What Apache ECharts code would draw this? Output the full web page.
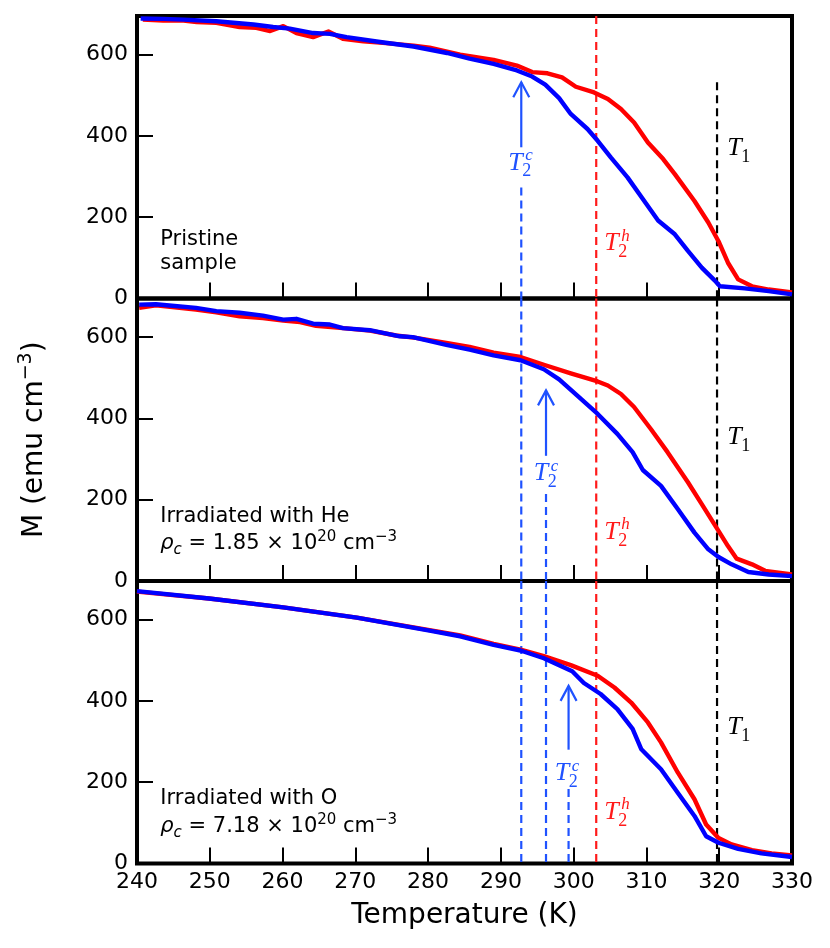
<!DOCTYPE html>
<html><head><meta charset="utf-8">
<script src="https://cdn.jsdelivr.net/npm/echarts@6/dist/echarts.min.js"></script>
<style>html,body{margin:0;padding:0;background:#fff}#c{width:830px;height:948px}</style>
</head><body><div id="c"></div>
<script>
// ---------- data (Temperature K, M emu cm^-3) ----------
const xTicks = [240, 250, 260, 270, 280, 290, 300, 310, 320, 330];
const yTicks = [0, 200, 400, 600];

// Panel 1: pristine
const p1RedT  = [240.8,243.6,246.4,248.2,250.9,254.1,256.4,258.3,260.1,261.9,264.2,266.3,268.3,271.1,273.8,278.0,280.2,284.4,289.0,292.2,294.3,296.4,298.4,300.3,302.8,304.7,306.5,308.3,310.2,312.3,313.9,316.6,318.5,319.9,321.2,322.6,324.5,326.8,330.0];
const p1RedM  = [686,684,684,680,678,668,666,658,670,653,643,657,639,633,629,622,617,600,587,573,557,554,544,521,507,491,466,433,384,343,306,240,187,141,88,47,30,22,15];
const p1BlueT = [240.5,243.6,246.4,250.9,256.0,258.7,261.0,264.2,266.5,268.8,273.4,278.0,282.6,285.7,289.0,292.2,294.3,296.1,298.0,299.6,301.9,303.3,305.1,307.4,309.7,311.6,313.9,315.7,317.6,319.4,320.1,323.5,326.8,330.0];
const p1BlueM = [689,688,686,682,674,668,664,653,651,643,631,620,604,590,577,561,546,526,493,454,417,388,347,298,240,192,158,117,76,44,30,25,18,10];

// Panel 2: irradiated with He
const p2RedT  = [240.3,242.6,248.1,250.9,254.1,257.3,260.1,262.4,264.6,268.3,272.0,275.6,278.3,282.5,285.7,289.0,292.7,295.9,299.6,303.3,304.7,306.5,308.3,310.6,312.9,315.7,317.6,319.6,321.2,322.4,324.5,326.3,330.0];
const p2RedM  = [672,678,668,661,651,647,641,637,628,622,616,604,598,586,576,562,551,532,511,491,481,460,428,374,317,243,189,132,86,55,41,25,16];
const p2BlueT = [240.3,242.6,248.1,250.9,254.1,257.3,260.1,261.9,264.2,266.5,268.3,272.0,276.1,277.9,282.5,285.7,289.0,292.7,295.9,298.0,300.5,303.3,306.0,308.1,309.5,312.0,314.3,316.6,318.5,319.9,321.7,324.0,326.8,330.0];
const p2BlueM = [680,681,672,664,660,653,643,645,633,631,622,617,602,600,581,569,555,543,521,496,456,411,362,317,273,234,177,119,78,59,41,22,16,12];

// Panel 3: irradiated with O
const p3RedT  = [240.0,249.9,260.1,270.2,280.2,284.4,289.0,292.7,295.9,299.6,303.3,305.6,307.9,310.2,312.0,314.3,316.6,318.2,319.9,321.7,324.5,327.2,330.0];
const p3RedM  = [669,652,630,605,574,561,540,526,510,488,462,433,396,347,298,224,158,96,63,47,33,25,20];
const p3BlueT = [240.0,249.9,260.1,270.2,280.2,284.4,289.0,292.7,295.9,299.8,301.4,303.7,306.0,308.1,309.3,312.0,314.3,316.6,318.2,319.9,322.6,325.8,330.0];
const p3BlueM = [670,652,630,605,573,559,538,524,505,473,444,417,380,331,281,232,174,117,67,51,36,25,16];

// Transition temperatures (vertical dashed lines)
const tBlueA = 292.8, tBlueB = 296.2, tBlueC = 299.3, tRed = 303.1, tBlack = 319.7;
// vertical segments per panel: [T, Mtop, Mbottom, colorKey]
const vLines1 = [[tBlueA, 273, 0, 'b'], [tRed, 695, 0, 'r'], [tBlack, 532, 0, 'k']];
const vLines2 = [[tBlueA, 695, 0, 'b'], [tBlueB, 214, 0, 'b'], [tRed, 695, 0, 'r'], [tBlack, 695, 0, 'k']];
const vLines3 = [[tBlueA, 695, 0, 'b'], [tBlueB, 695, 0, 'b'], [tBlueC, 183, 0, 'b'], [tRed, 695, 0, 'r'], [tBlack, 695, 0, 'k']];

// arrows: [T, Mtail, Mtip]
const arrows1 = [[tBlueA, 372, 532]];
const arrows2 = [[tBlueB, 308, 469]];
const arrows3 = [[tBlueC, 280, 437]];

// T labels: [T(left), M(center), kind]  kind 0=T2c 1=T2h 2=T1
const tLabels1 = [[291.0, 334, 0], [304.2, 136, 1], [321.1, 370, 2]];
const tLabels2 = [[294.5, 265, 0], [304.2, 121, 1], [321.1, 353, 2]];
const tLabels3 = [[297.4, 221, 0], [304.2, 127, 1], [321.1, 336, 2]];
const tLabelSub = ['2', '2', '1'];
const tLabelSup = ['c', 'h', ''];

// panel notes: [T(left), M(center), textIndex]
const noteTexts = [
  'Pristine', 'sample',
  'Irradiated with He', '{i|ρ}{sub|c} = 1.85 × 10{sup|20} cm{sup|−3}',
  'Irradiated with O',  '{i|ρ}{sub|c} = 7.18 × 10{sup|20} cm{sup|−3}'
];
const notes1 = [[243.2, 144, 0], [243.2, 87, 1]];
const notes2 = [[243.2, 158, 2], [243.2, 93, 3]];
const notes3 = [[243.2, 161, 4], [243.2, 91, 5]];

// ---------- styles ----------
const SANS = '"DejaVu Sans", sans-serif';
const MATH = '"Liberation Serif", "DejaVu Serif", serif';
const RED = '#ff0000', BLUE = '#0000ff', DBLUE = '#1f52ff', DRED = '#ff1a1a', BLACK = '#000000';
const lineColor = {b: DBLUE, r: DRED, k: BLACK};
const labelColor = [DBLUE, DRED, BLACK];

const LEFT = 137, WIDTH = 655, HEIGHT = 282.5;
const TOPS = [16, 298.5, 581];
const YMAX = 695;

const zip = (a, b) => a.map((t, i) => [t, b[i]]);
const panels = [
  {red: zip(p1RedT, p1RedM), blue: zip(p1BlueT, p1BlueM), v: vLines1, arrows: arrows1, tl: tLabels1, notes: notes1},
  {red: zip(p2RedT, p2RedM), blue: zip(p2BlueT, p2BlueM), v: vLines2, arrows: arrows2, tl: tLabels2, notes: notes2},
  {red: zip(p3RedT, p3RedM), blue: zip(p3BlueT, p3BlueM), v: vLines3, arrows: arrows3, tl: tLabels3, notes: notes3},
];

const RICH = {
  i:   {fontFamily: SANS, fontStyle: 'italic', fontSize: 21, lineHeight: 28, color: '#000'},
  sub: {fontFamily: SANS, fontStyle: 'italic', fontSize: 15, lineHeight: 14, verticalAlign: 'bottom', color: '#000'},
  sup: {fontFamily: SANS, fontSize: 15, lineHeight: 15, verticalAlign: 'top', color: '#000'}
};

function arrowItem(params, api) {
  const T = api.value(0);
  const p0 = api.coord([T, api.value(1)]);
  const p1 = api.coord([T, api.value(2)]);
  const st = {stroke: DBLUE, lineWidth: 2.2, fill: null};
  return {type: 'group', children: [
    {type: 'line', shape: {x1: p0[0], y1: p0[1], x2: p1[0], y2: p1[1]}, style: st},
    {type: 'polyline', shape: {points: [[p1[0] - 8, p1[1] + 15], [p1[0], p1[1]], [p1[0] + 8, p1[1] + 15]]}, style: st}
  ]};
}
function tLabelItem(params, api) {
  const p = api.coord([api.value(0), api.value(1)]);
  const k = api.value(2);
  const c = labelColor[k];
  const kids = [
    {type: 'text', x: p[0], y: p[1], style: {text: 'T', fontFamily: MATH, fontStyle: 'italic', fontSize: 26, fill: c, align: 'left', verticalAlign: 'middle'}},
    {type: 'text', x: p[0] + 14, y: p[1] + 9, style: {text: tLabelSub[k], fontFamily: MATH, fontSize: 18, fill: c, align: 'left', verticalAlign: 'middle'}}
  ];
  if (tLabelSup[k]) kids.push({type: 'text', x: p[0] + 17, y: p[1] - 7, style: {text: tLabelSup[k], fontFamily: MATH, fontStyle: 'italic', fontSize: 17, fill: c, align: 'left', verticalAlign: 'middle'}});
  return {type: 'group', children: kids};
}
function noteItem(params, api) {
  const p = api.coord([api.value(0), api.value(1)]);
  const k = api.value(2);
  return {type: 'text', x: p[0], y: p[1], style: {text: noteTexts[k], fontFamily: SANS, fontSize: 21, lineHeight: 28, fill: '#000', align: 'left', verticalAlign: 'middle', rich: RICH}};
}

const grid = [], xAxis = [], yAxis = [], series = [];
panels.forEach((P, i) => {
  grid.push({left: LEFT, top: TOPS[i], width: WIDTH, height: HEIGHT, show: true, borderColor: '#000', borderWidth: 4, backgroundColor: 'transparent', containLabel: false});
  const last = i === panels.length - 1;
  xAxis.push({
    type: 'value', gridIndex: i, min: xTicks[0], max: xTicks[xTicks.length - 1], interval: 10,
    axisLine: {show: false}, splitLine: {show: false},
    axisTick: {show: true, inside: true, length: 16, lineStyle: {color: '#000', width: 2}},
    axisLabel: {show: last, color: '#000', fontFamily: SANS, fontSize: 22, margin: 8},
    name: last ? 'Temperature (K)' : '', nameLocation: 'middle', nameGap: 38,
    nameTextStyle: {color: '#000', fontFamily: SANS, fontSize: 28}
  });
  yAxis.push({
    type: 'value', gridIndex: i, min: yTicks[0], max: YMAX, interval: 200,
    axisLine: {show: false}, splitLine: {show: false},
    axisTick: {show: true, inside: true, length: 16, lineStyle: {color: '#000', width: 2}},
    axisLabel: {show: true, color: '#000', fontFamily: SANS, fontSize: 22, margin: 9, showMaxLabel: false,
      formatter: v => (yTicks.indexOf(v) >= 0 ? String(v) : '')},
    name: i === 1 ? 'M (emu cm{sup|−3})' : '', nameLocation: 'middle', nameGap: 84, nameRotate: 90,
    nameTextStyle: {color: '#000', fontFamily: SANS, fontSize: 28, lineHeight: 36,
      rich: {sup: {fontFamily: SANS, fontSize: 19, lineHeight: 19, verticalAlign: 'top', color: '#000'}}}
  });
  P.v.forEach(v => {
    series.push({type: 'line', xAxisIndex: i, yAxisIndex: i, data: [[v[0], v[1]], [v[0], v[2]]],
      symbol: 'none', silent: true, z: 1, animation: false,
      lineStyle: {color: lineColor[v[3]], width: 2.2, type: [8, 5]}});
  });
  series.push({type: 'line', xAxisIndex: i, yAxisIndex: i, data: P.red, symbol: 'none', z: 2, animation: false,
    lineStyle: {color: RED, width: 4.4, join: 'round'}});
  series.push({type: 'line', xAxisIndex: i, yAxisIndex: i, data: P.blue, symbol: 'none', z: 3, animation: false,
    lineStyle: {color: BLUE, width: 4.4, join: 'round'}});
  series.push({type: 'custom', xAxisIndex: i, yAxisIndex: i, data: P.arrows, renderItem: arrowItem, z: 4, silent: true, animation: false});
  series.push({type: 'custom', xAxisIndex: i, yAxisIndex: i, data: P.tl, renderItem: tLabelItem, z: 4, silent: true, animation: false});
  series.push({type: 'custom', xAxisIndex: i, yAxisIndex: i, data: P.notes, renderItem: noteItem, z: 4, silent: true, animation: false});
});

const chart = echarts.init(document.getElementById('c'), null, {renderer: 'canvas'});
chart.setOption({backgroundColor: '#fff', animation: false, grid, xAxis, yAxis, series});
</script></body></html>
